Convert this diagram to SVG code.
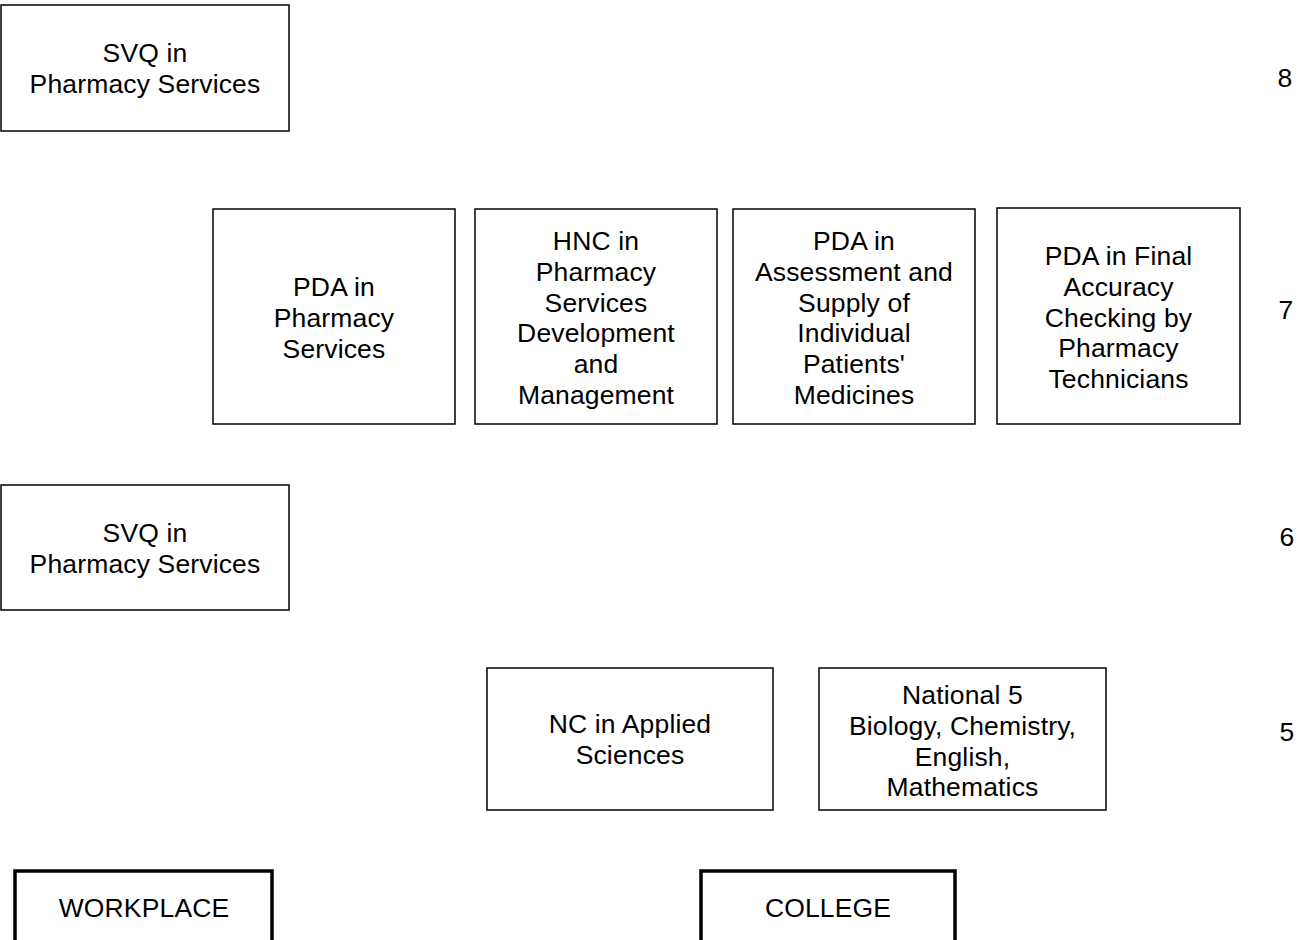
<svg xmlns="http://www.w3.org/2000/svg" width="1304" height="940" viewBox="0 0 1304 940" font-family="Liberation Sans, Arial, Helvetica, sans-serif">
<style>
.box{fill:#fff;stroke:#000;stroke-width:1.5}
.thick{fill:#fff;stroke:#000;stroke-width:3.5}
text{font-family:"Liberation Sans",Arial,Helvetica,sans-serif;font-size:26.5px;letter-spacing:0.15px;fill:#000;text-anchor:middle}
</style>
<rect width="1304" height="940" fill="#fff"/>
<g id="svq8"><rect class="box" x="1" y="5" width="288" height="126"/>
<text x="145" y="62"><tspan x="145">SVQ in</tspan><tspan x="145" dy="31">Pharmacy Services</tspan></text></g>
<g id="pda-ps"><rect class="box" x="213" y="209" width="242" height="215"/>
<text x="334" y="296"><tspan x="334">PDA in</tspan><tspan x="334" dy="30.75">Pharmacy</tspan><tspan x="334" dy="30.75">Services</tspan></text></g>
<g id="hnc"><rect class="box" x="475" y="209" width="242" height="215"/>
<text x="596" y="250"><tspan x="596">HNC in</tspan><tspan x="596" dy="30.75">Pharmacy</tspan><tspan x="596" dy="30.75">Services</tspan><tspan x="596" dy="30.75">Development</tspan><tspan x="596" dy="30.75">and</tspan><tspan x="596" dy="30.75">Management</tspan></text></g>
<g id="pda-as"><rect class="box" x="733" y="209" width="242" height="215"/>
<text x="854" y="250"><tspan x="854">PDA in</tspan><tspan x="854" dy="30.75">Assessment and</tspan><tspan x="854" dy="30.75">Supply of</tspan><tspan x="854" dy="30.75">Individual</tspan><tspan x="854" dy="30.75">Patients'</tspan><tspan x="854" dy="30.75">Medicines</tspan></text></g>
<g id="pda-fac"><rect class="box" x="997" y="208" width="243" height="216"/>
<text x="1118.5" y="265"><tspan x="1118.5">PDA in Final</tspan><tspan x="1118.5" dy="30.75">Accuracy</tspan><tspan x="1118.5" dy="30.75">Checking by</tspan><tspan x="1118.5" dy="30.75">Pharmacy</tspan><tspan x="1118.5" dy="30.75">Technicians</tspan></text></g>
<g id="svq6"><rect class="box" x="1" y="485" width="288" height="125"/>
<text x="145" y="542"><tspan x="145">SVQ in</tspan><tspan x="145" dy="31">Pharmacy Services</tspan></text></g>
<g id="nc"><rect class="box" x="487" y="668" width="286" height="142"/>
<text x="630" y="733"><tspan x="630">NC in Applied</tspan><tspan x="630" dy="31">Sciences</tspan></text></g>
<g id="nat5"><rect class="box" x="819" y="668" width="287" height="142"/>
<text x="962.5" y="704"><tspan x="962.5">National 5</tspan><tspan x="962.5" dy="30.75">Biology, Chemistry,</tspan><tspan x="962.5" dy="30.75">English,</tspan><tspan x="962.5" dy="30.75">Mathematics</tspan></text></g>
<g id="workplace"><rect class="thick" x="15" y="871" width="257" height="90"/>
<text x="144" y="917">WORKPLACE</text></g>
<g id="college"><rect class="thick" x="701" y="871" width="254" height="90"/>
<text x="828" y="917">COLLEGE</text></g>
<g id="levels">
<text x="1285" y="87">8</text>
<text x="1286" y="319">7</text>
<text x="1287" y="546">6</text>
<text x="1287" y="741">5</text>
</g>
<g id="connectors"/>
</svg>
